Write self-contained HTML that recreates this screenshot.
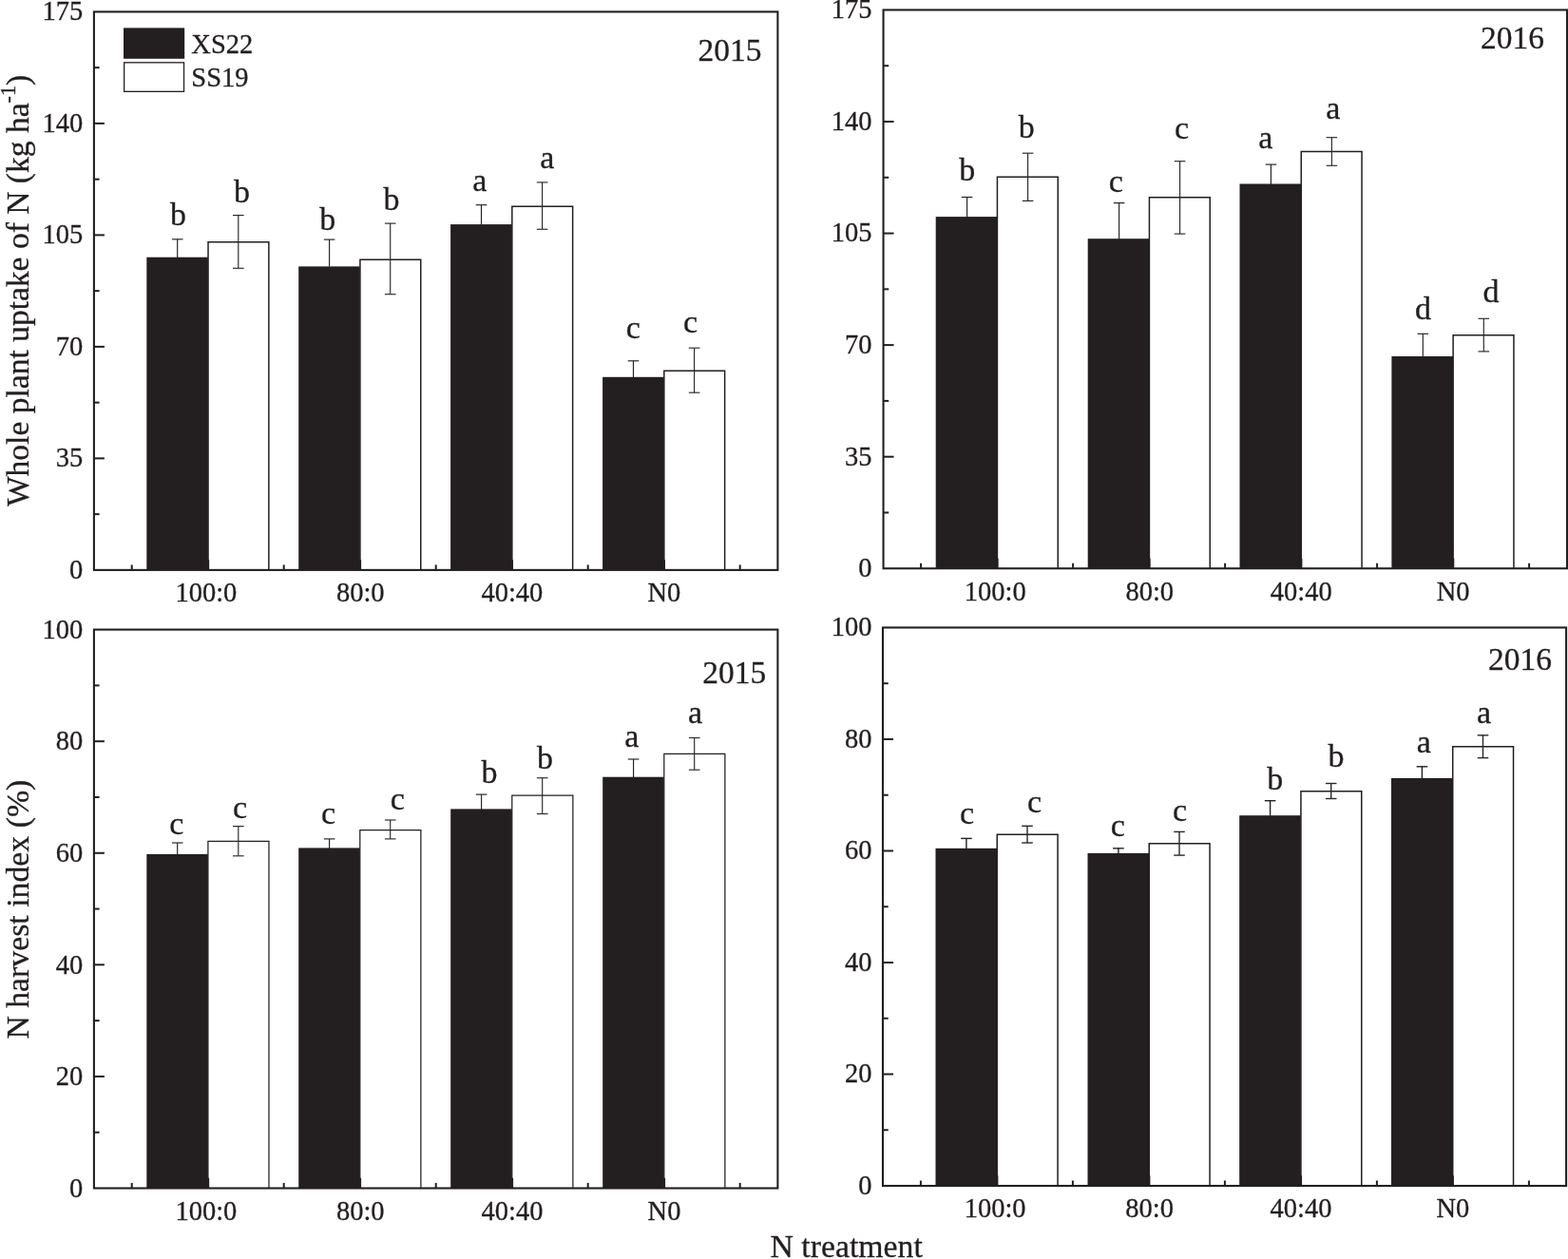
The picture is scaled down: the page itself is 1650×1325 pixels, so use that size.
<!DOCTYPE html>
<html lang="en">
<head>
<meta charset="utf-8">
<title>N uptake and N harvest index</title>
<style>
html,body{margin:0;padding:0;background:#fff;}
body{width:1650px;height:1325px;overflow:hidden;}
svg{display:block;}
svg text{font-family:"Liberation Serif","Times New Roman",serif;fill:#231f20;stroke:#231f20;stroke-width:0.3px;}
</style>
</head>
<body>
<svg width="1650" height="1325" viewBox="0 0 1650 1325">
<rect x="0" y="0" width="1650" height="1325" fill="#ffffff"/>
<rect x="154.30" y="270.70" width="64.60" height="329.20" fill="#231f20"/>
<path d="M219.03 599.90V254.75H282.85V599.90" fill="#fff" stroke="#231f20" stroke-width="1.5"/>
<rect x="314.20" y="280.40" width="64.60" height="319.50" fill="#231f20"/>
<path d="M378.93 599.90V273.35H442.75V599.90" fill="#fff" stroke="#231f20" stroke-width="1.5"/>
<rect x="474.10" y="236.10" width="64.60" height="363.80" fill="#231f20"/>
<path d="M538.83 599.90V217.35H602.65V599.90" fill="#fff" stroke="#231f20" stroke-width="1.5"/>
<rect x="634.10" y="396.80" width="64.60" height="203.10" fill="#231f20"/>
<path d="M698.83 599.90V390.25H762.65V599.90" fill="#fff" stroke="#231f20" stroke-width="1.5"/>
<line x1="186.70" y1="251.80" x2="186.70" y2="270.90" stroke="#231f20" stroke-width="1.15"/>
<line x1="180.90" y1="251.80" x2="192.50" y2="251.80" stroke="#231f20" stroke-width="1.15"/>
<line x1="250.80" y1="226.60" x2="250.80" y2="282.30" stroke="#2b2728" stroke-width="1.15"/>
<line x1="245.00" y1="226.60" x2="256.60" y2="226.60" stroke="#2b2728" stroke-width="1.15"/>
<line x1="245.00" y1="282.30" x2="256.60" y2="282.30" stroke="#2b2728" stroke-width="1.15"/>
<line x1="346.60" y1="252.10" x2="346.60" y2="280.60" stroke="#231f20" stroke-width="1.15"/>
<line x1="340.80" y1="252.10" x2="352.40" y2="252.10" stroke="#231f20" stroke-width="1.15"/>
<line x1="410.70" y1="235.10" x2="410.70" y2="309.70" stroke="#2b2728" stroke-width="1.15"/>
<line x1="404.90" y1="235.10" x2="416.50" y2="235.10" stroke="#2b2728" stroke-width="1.15"/>
<line x1="404.90" y1="309.70" x2="416.50" y2="309.70" stroke="#2b2728" stroke-width="1.15"/>
<line x1="506.50" y1="215.70" x2="506.50" y2="236.30" stroke="#231f20" stroke-width="1.15"/>
<line x1="500.70" y1="215.70" x2="512.30" y2="215.70" stroke="#231f20" stroke-width="1.15"/>
<line x1="570.60" y1="191.90" x2="570.60" y2="241.30" stroke="#2b2728" stroke-width="1.15"/>
<line x1="564.80" y1="191.90" x2="576.40" y2="191.90" stroke="#2b2728" stroke-width="1.15"/>
<line x1="564.80" y1="241.30" x2="576.40" y2="241.30" stroke="#2b2728" stroke-width="1.15"/>
<line x1="666.50" y1="379.80" x2="666.50" y2="397.00" stroke="#231f20" stroke-width="1.15"/>
<line x1="660.70" y1="379.80" x2="672.30" y2="379.80" stroke="#231f20" stroke-width="1.15"/>
<line x1="730.60" y1="366.20" x2="730.60" y2="413.20" stroke="#2b2728" stroke-width="1.15"/>
<line x1="724.80" y1="366.20" x2="736.40" y2="366.20" stroke="#2b2728" stroke-width="1.15"/>
<line x1="724.80" y1="413.20" x2="736.40" y2="413.20" stroke="#2b2728" stroke-width="1.15"/>
<rect x="98.90" y="12.40" width="719.50" height="587.50" fill="none" stroke="#231f20" stroke-width="2.1"/>
<line x1="98.90" y1="541.15" x2="104.60" y2="541.15" stroke="#231f20" stroke-width="2.0"/>
<text x="87.30" y="608.50" font-size="28.5" text-anchor="end">0</text>
<line x1="98.90" y1="482.40" x2="109.90" y2="482.40" stroke="#231f20" stroke-width="2.0"/>
<line x1="98.90" y1="423.65" x2="104.60" y2="423.65" stroke="#231f20" stroke-width="2.0"/>
<text x="87.30" y="491.00" font-size="28.5" text-anchor="end">35</text>
<line x1="98.90" y1="364.90" x2="109.90" y2="364.90" stroke="#231f20" stroke-width="2.0"/>
<line x1="98.90" y1="306.15" x2="104.60" y2="306.15" stroke="#231f20" stroke-width="2.0"/>
<text x="87.30" y="373.50" font-size="28.5" text-anchor="end">70</text>
<line x1="98.90" y1="247.40" x2="109.90" y2="247.40" stroke="#231f20" stroke-width="2.0"/>
<line x1="98.90" y1="188.65" x2="104.60" y2="188.65" stroke="#231f20" stroke-width="2.0"/>
<text x="87.30" y="256.00" font-size="28.5" text-anchor="end">105</text>
<line x1="98.90" y1="129.90" x2="109.90" y2="129.90" stroke="#231f20" stroke-width="2.0"/>
<line x1="98.90" y1="71.15" x2="104.60" y2="71.15" stroke="#231f20" stroke-width="2.0"/>
<text x="87.30" y="138.50" font-size="28.5" text-anchor="end">140</text>
<text x="87.30" y="21.00" font-size="28.5" text-anchor="end">175</text>
<line x1="138.70" y1="599.90" x2="138.70" y2="594.40" stroke="#231f20" stroke-width="2.0"/>
<line x1="298.70" y1="599.90" x2="298.70" y2="594.40" stroke="#231f20" stroke-width="2.0"/>
<line x1="458.70" y1="599.90" x2="458.70" y2="594.40" stroke="#231f20" stroke-width="2.0"/>
<line x1="618.70" y1="599.90" x2="618.70" y2="594.40" stroke="#231f20" stroke-width="2.0"/>
<line x1="778.70" y1="599.90" x2="778.70" y2="594.40" stroke="#231f20" stroke-width="2.0"/>
<line x1="219.20" y1="599.90" x2="219.20" y2="589.20" stroke="#231f20" stroke-width="2.0"/>
<line x1="379.10" y1="599.90" x2="379.10" y2="589.20" stroke="#231f20" stroke-width="2.0"/>
<line x1="539.00" y1="599.90" x2="539.00" y2="589.20" stroke="#231f20" stroke-width="2.0"/>
<line x1="699.00" y1="599.90" x2="699.00" y2="589.20" stroke="#231f20" stroke-width="2.0"/>
<text x="216.90" y="633.10" font-size="28.5" text-anchor="middle">100:0</text>
<text x="379.30" y="633.10" font-size="28.5" text-anchor="middle">80:0</text>
<text x="538.90" y="633.10" font-size="28.5" text-anchor="middle">40:40</text>
<text x="698.90" y="633.10" font-size="28.5" text-anchor="middle">N0</text>
<text x="187.60" y="236.50" font-size="34" text-anchor="middle">b</text>
<text x="254.60" y="213.20" font-size="34" text-anchor="middle">b</text>
<text x="344.80" y="241.60" font-size="34" text-anchor="middle">b</text>
<text x="412.10" y="220.50" font-size="34" text-anchor="middle">b</text>
<text x="504.70" y="201.10" font-size="34" text-anchor="middle">a</text>
<text x="575.70" y="177.40" font-size="34" text-anchor="middle">a</text>
<text x="666.30" y="356.30" font-size="34" text-anchor="middle">c</text>
<text x="726.60" y="350.00" font-size="34" text-anchor="middle">c</text>
<text transform="translate(767.90,64.00) scale(0.985,1.01)" font-size="34" text-anchor="middle">2015</text>
<rect x="984.70" y="228.10" width="64.60" height="370.15" fill="#231f20"/>
<path d="M1049.43 598.25V186.35H1113.25V598.25" fill="#fff" stroke="#231f20" stroke-width="1.5"/>
<rect x="1144.70" y="251.20" width="64.60" height="347.05" fill="#231f20"/>
<path d="M1209.43 598.25V207.75H1273.25V598.25" fill="#fff" stroke="#231f20" stroke-width="1.5"/>
<rect x="1304.50" y="193.50" width="64.60" height="404.75" fill="#231f20"/>
<path d="M1369.23 598.25V159.45H1433.05V598.25" fill="#fff" stroke="#231f20" stroke-width="1.5"/>
<rect x="1464.40" y="375.00" width="64.60" height="223.25" fill="#231f20"/>
<path d="M1529.13 598.25V352.65H1592.95V598.25" fill="#fff" stroke="#231f20" stroke-width="1.5"/>
<line x1="1017.60" y1="207.50" x2="1017.60" y2="228.60" stroke="#231f20" stroke-width="1.15"/>
<line x1="1011.80" y1="207.50" x2="1023.40" y2="207.50" stroke="#231f20" stroke-width="1.15"/>
<line x1="1081.60" y1="161.20" x2="1081.60" y2="211.40" stroke="#2b2728" stroke-width="1.15"/>
<line x1="1075.80" y1="161.20" x2="1087.40" y2="161.20" stroke="#2b2728" stroke-width="1.15"/>
<line x1="1075.80" y1="211.40" x2="1087.40" y2="211.40" stroke="#2b2728" stroke-width="1.15"/>
<line x1="1177.60" y1="213.60" x2="1177.60" y2="251.70" stroke="#231f20" stroke-width="1.15"/>
<line x1="1171.80" y1="213.60" x2="1183.40" y2="213.60" stroke="#231f20" stroke-width="1.15"/>
<line x1="1241.60" y1="169.70" x2="1241.60" y2="246.10" stroke="#2b2728" stroke-width="1.15"/>
<line x1="1235.80" y1="169.70" x2="1247.40" y2="169.70" stroke="#2b2728" stroke-width="1.15"/>
<line x1="1235.80" y1="246.10" x2="1247.40" y2="246.10" stroke="#2b2728" stroke-width="1.15"/>
<line x1="1337.40" y1="173.10" x2="1337.40" y2="194.00" stroke="#231f20" stroke-width="1.15"/>
<line x1="1331.60" y1="173.10" x2="1343.20" y2="173.10" stroke="#231f20" stroke-width="1.15"/>
<line x1="1401.40" y1="144.70" x2="1401.40" y2="174.30" stroke="#2b2728" stroke-width="1.15"/>
<line x1="1395.60" y1="144.70" x2="1407.20" y2="144.70" stroke="#2b2728" stroke-width="1.15"/>
<line x1="1395.60" y1="174.30" x2="1407.20" y2="174.30" stroke="#2b2728" stroke-width="1.15"/>
<line x1="1497.30" y1="351.30" x2="1497.30" y2="375.50" stroke="#231f20" stroke-width="1.15"/>
<line x1="1491.50" y1="351.30" x2="1503.10" y2="351.30" stroke="#231f20" stroke-width="1.15"/>
<line x1="1561.30" y1="335.30" x2="1561.30" y2="369.90" stroke="#2b2728" stroke-width="1.15"/>
<line x1="1555.50" y1="335.30" x2="1567.10" y2="335.30" stroke="#2b2728" stroke-width="1.15"/>
<line x1="1555.50" y1="369.90" x2="1567.10" y2="369.90" stroke="#2b2728" stroke-width="1.15"/>
<rect x="929.55" y="10.45" width="719.45" height="587.80" fill="none" stroke="#231f20" stroke-width="2.1"/>
<line x1="929.55" y1="539.47" x2="935.25" y2="539.47" stroke="#231f20" stroke-width="2.0"/>
<text x="917.60" y="607.15" font-size="28.5" text-anchor="end">0</text>
<line x1="929.55" y1="480.69" x2="940.55" y2="480.69" stroke="#231f20" stroke-width="2.0"/>
<line x1="929.55" y1="421.91" x2="935.25" y2="421.91" stroke="#231f20" stroke-width="2.0"/>
<text x="917.60" y="489.59" font-size="28.5" text-anchor="end">35</text>
<line x1="929.55" y1="363.13" x2="940.55" y2="363.13" stroke="#231f20" stroke-width="2.0"/>
<line x1="929.55" y1="304.35" x2="935.25" y2="304.35" stroke="#231f20" stroke-width="2.0"/>
<text x="917.60" y="372.03" font-size="28.5" text-anchor="end">70</text>
<line x1="929.55" y1="245.57" x2="940.55" y2="245.57" stroke="#231f20" stroke-width="2.0"/>
<line x1="929.55" y1="186.79" x2="935.25" y2="186.79" stroke="#231f20" stroke-width="2.0"/>
<text x="917.60" y="254.47" font-size="28.5" text-anchor="end">105</text>
<line x1="929.55" y1="128.01" x2="940.55" y2="128.01" stroke="#231f20" stroke-width="2.0"/>
<line x1="929.55" y1="69.23" x2="935.25" y2="69.23" stroke="#231f20" stroke-width="2.0"/>
<text x="917.60" y="136.91" font-size="28.5" text-anchor="end">140</text>
<text x="917.60" y="19.35" font-size="28.5" text-anchor="end">175</text>
<line x1="969.10" y1="598.25" x2="969.10" y2="592.75" stroke="#231f20" stroke-width="2.0"/>
<line x1="1129.10" y1="598.25" x2="1129.10" y2="592.75" stroke="#231f20" stroke-width="2.0"/>
<line x1="1289.10" y1="598.25" x2="1289.10" y2="592.75" stroke="#231f20" stroke-width="2.0"/>
<line x1="1449.10" y1="598.25" x2="1449.10" y2="592.75" stroke="#231f20" stroke-width="2.0"/>
<line x1="1609.10" y1="598.25" x2="1609.10" y2="592.75" stroke="#231f20" stroke-width="2.0"/>
<line x1="1049.60" y1="598.25" x2="1049.60" y2="587.55" stroke="#231f20" stroke-width="2.0"/>
<line x1="1209.60" y1="598.25" x2="1209.60" y2="587.55" stroke="#231f20" stroke-width="2.0"/>
<line x1="1369.40" y1="598.25" x2="1369.40" y2="587.55" stroke="#231f20" stroke-width="2.0"/>
<line x1="1529.30" y1="598.25" x2="1529.30" y2="587.55" stroke="#231f20" stroke-width="2.0"/>
<text x="1047.30" y="632.25" font-size="28.5" text-anchor="middle">100:0</text>
<text x="1209.80" y="632.25" font-size="28.5" text-anchor="middle">80:0</text>
<text x="1369.30" y="632.25" font-size="28.5" text-anchor="middle">40:40</text>
<text x="1529.20" y="632.25" font-size="28.5" text-anchor="middle">N0</text>
<text x="1017.70" y="190.10" font-size="34" text-anchor="middle">b</text>
<text x="1080.20" y="144.70" font-size="34" text-anchor="middle">b</text>
<text x="1174.20" y="201.90" font-size="34" text-anchor="middle">c</text>
<text x="1243.60" y="145.50" font-size="34" text-anchor="middle">c</text>
<text x="1331.70" y="155.90" font-size="34" text-anchor="middle">a</text>
<text x="1402.70" y="125.10" font-size="34" text-anchor="middle">a</text>
<text x="1497.40" y="336.20" font-size="34" text-anchor="middle">d</text>
<text x="1569.10" y="318.10" font-size="34" text-anchor="middle">d</text>
<text transform="translate(1591.50,50.90) scale(0.985,1.01)" font-size="34" text-anchor="middle">2016</text>
<rect x="154.30" y="898.90" width="64.60" height="351.60" fill="#231f20"/>
<path d="M218.91 1250.50V885.43H282.98V1250.50" fill="#fff" stroke="#231f20" stroke-width="1.25"/>
<rect x="314.20" y="892.40" width="64.60" height="358.10" fill="#231f20"/>
<path d="M378.80 1250.50V873.53H442.88V1250.50" fill="#fff" stroke="#231f20" stroke-width="1.25"/>
<rect x="474.20" y="851.40" width="64.60" height="399.10" fill="#231f20"/>
<path d="M538.80 1250.50V837.12H602.88V1250.50" fill="#fff" stroke="#231f20" stroke-width="1.25"/>
<rect x="634.20" y="817.70" width="64.60" height="432.80" fill="#231f20"/>
<path d="M698.81 1250.50V793.33H762.88V1250.50" fill="#fff" stroke="#231f20" stroke-width="1.25"/>
<line x1="186.70" y1="887.00" x2="186.70" y2="899.40" stroke="#231f20" stroke-width="1.15"/>
<line x1="180.90" y1="887.00" x2="192.50" y2="887.00" stroke="#231f20" stroke-width="1.15"/>
<line x1="250.80" y1="869.60" x2="250.80" y2="900.80" stroke="#2b2728" stroke-width="1.15"/>
<line x1="245.00" y1="869.60" x2="256.60" y2="869.60" stroke="#2b2728" stroke-width="1.15"/>
<line x1="245.00" y1="900.80" x2="256.60" y2="900.80" stroke="#2b2728" stroke-width="1.15"/>
<line x1="346.60" y1="882.90" x2="346.60" y2="892.90" stroke="#231f20" stroke-width="1.15"/>
<line x1="340.80" y1="882.90" x2="352.40" y2="882.90" stroke="#231f20" stroke-width="1.15"/>
<line x1="410.70" y1="863.00" x2="410.70" y2="882.90" stroke="#2b2728" stroke-width="1.15"/>
<line x1="404.90" y1="863.00" x2="416.50" y2="863.00" stroke="#2b2728" stroke-width="1.15"/>
<line x1="404.90" y1="882.90" x2="416.50" y2="882.90" stroke="#2b2728" stroke-width="1.15"/>
<line x1="506.60" y1="836.10" x2="506.60" y2="851.90" stroke="#231f20" stroke-width="1.15"/>
<line x1="500.80" y1="836.10" x2="512.40" y2="836.10" stroke="#231f20" stroke-width="1.15"/>
<line x1="570.70" y1="818.70" x2="570.70" y2="856.50" stroke="#2b2728" stroke-width="1.15"/>
<line x1="564.90" y1="818.70" x2="576.50" y2="818.70" stroke="#2b2728" stroke-width="1.15"/>
<line x1="564.90" y1="856.50" x2="576.50" y2="856.50" stroke="#2b2728" stroke-width="1.15"/>
<line x1="666.60" y1="799.00" x2="666.60" y2="818.20" stroke="#231f20" stroke-width="1.15"/>
<line x1="660.80" y1="799.00" x2="672.40" y2="799.00" stroke="#231f20" stroke-width="1.15"/>
<line x1="730.70" y1="776.50" x2="730.70" y2="810.20" stroke="#2b2728" stroke-width="1.15"/>
<line x1="724.90" y1="776.50" x2="736.50" y2="776.50" stroke="#2b2728" stroke-width="1.15"/>
<line x1="724.90" y1="810.20" x2="736.50" y2="810.20" stroke="#2b2728" stroke-width="1.15"/>
<rect x="98.90" y="662.60" width="719.50" height="587.90" fill="none" stroke="#231f20" stroke-width="2.1"/>
<line x1="98.90" y1="1191.71" x2="104.60" y2="1191.71" stroke="#231f20" stroke-width="2.0"/>
<text x="87.30" y="1259.70" font-size="28.5" text-anchor="end">0</text>
<line x1="98.90" y1="1132.92" x2="109.90" y2="1132.92" stroke="#231f20" stroke-width="2.0"/>
<line x1="98.90" y1="1074.13" x2="104.60" y2="1074.13" stroke="#231f20" stroke-width="2.0"/>
<text x="87.30" y="1142.12" font-size="28.5" text-anchor="end">20</text>
<line x1="98.90" y1="1015.34" x2="109.90" y2="1015.34" stroke="#231f20" stroke-width="2.0"/>
<line x1="98.90" y1="956.55" x2="104.60" y2="956.55" stroke="#231f20" stroke-width="2.0"/>
<text x="87.30" y="1024.54" font-size="28.5" text-anchor="end">40</text>
<line x1="98.90" y1="897.76" x2="109.90" y2="897.76" stroke="#231f20" stroke-width="2.0"/>
<line x1="98.90" y1="838.97" x2="104.60" y2="838.97" stroke="#231f20" stroke-width="2.0"/>
<text x="87.30" y="906.96" font-size="28.5" text-anchor="end">60</text>
<line x1="98.90" y1="780.18" x2="109.90" y2="780.18" stroke="#231f20" stroke-width="2.0"/>
<line x1="98.90" y1="721.39" x2="104.60" y2="721.39" stroke="#231f20" stroke-width="2.0"/>
<text x="87.30" y="789.38" font-size="28.5" text-anchor="end">80</text>
<text x="87.30" y="671.80" font-size="28.5" text-anchor="end">100</text>
<line x1="138.70" y1="1250.50" x2="138.70" y2="1245.00" stroke="#231f20" stroke-width="2.0"/>
<line x1="298.70" y1="1250.50" x2="298.70" y2="1245.00" stroke="#231f20" stroke-width="2.0"/>
<line x1="458.70" y1="1250.50" x2="458.70" y2="1245.00" stroke="#231f20" stroke-width="2.0"/>
<line x1="618.70" y1="1250.50" x2="618.70" y2="1245.00" stroke="#231f20" stroke-width="2.0"/>
<line x1="778.70" y1="1250.50" x2="778.70" y2="1245.00" stroke="#231f20" stroke-width="2.0"/>
<line x1="219.20" y1="1250.50" x2="219.20" y2="1239.80" stroke="#231f20" stroke-width="2.0"/>
<line x1="379.10" y1="1250.50" x2="379.10" y2="1239.80" stroke="#231f20" stroke-width="2.0"/>
<line x1="539.10" y1="1250.50" x2="539.10" y2="1239.80" stroke="#231f20" stroke-width="2.0"/>
<line x1="699.10" y1="1250.50" x2="699.10" y2="1239.80" stroke="#231f20" stroke-width="2.0"/>
<text x="216.90" y="1283.70" font-size="28.5" text-anchor="middle">100:0</text>
<text x="379.30" y="1283.70" font-size="28.5" text-anchor="middle">80:0</text>
<text x="539.00" y="1283.70" font-size="28.5" text-anchor="middle">40:40</text>
<text x="699.00" y="1283.70" font-size="28.5" text-anchor="middle">N0</text>
<text x="185.80" y="877.80" font-size="34" text-anchor="middle">c</text>
<text x="252.60" y="860.80" font-size="34" text-anchor="middle">c</text>
<text x="345.50" y="866.90" font-size="34" text-anchor="middle">c</text>
<text x="418.40" y="851.60" font-size="34" text-anchor="middle">c</text>
<text x="515.10" y="824.40" font-size="34" text-anchor="middle">b</text>
<text x="573.50" y="808.70" font-size="34" text-anchor="middle">b</text>
<text x="664.80" y="785.70" font-size="34" text-anchor="middle">a</text>
<text x="731.60" y="760.70" font-size="34" text-anchor="middle">a</text>
<text transform="translate(772.70,718.60) scale(0.985,1.01)" font-size="34" text-anchor="middle">2015</text>
<rect x="984.50" y="892.80" width="64.60" height="355.20" fill="#231f20"/>
<path d="M1049.23 1248.00V878.35H1113.05V1248.00" fill="#fff" stroke="#231f20" stroke-width="1.5"/>
<rect x="1144.50" y="897.90" width="64.60" height="350.10" fill="#231f20"/>
<path d="M1209.23 1248.00V887.85H1273.05V1248.00" fill="#fff" stroke="#231f20" stroke-width="1.5"/>
<rect x="1304.20" y="858.20" width="64.60" height="389.80" fill="#231f20"/>
<path d="M1368.93 1248.00V832.85H1432.75V1248.00" fill="#fff" stroke="#231f20" stroke-width="1.5"/>
<rect x="1464.00" y="818.90" width="64.60" height="429.10" fill="#231f20"/>
<path d="M1528.73 1248.00V785.85H1592.55V1248.00" fill="#fff" stroke="#231f20" stroke-width="1.5"/>
<line x1="1016.90" y1="882.40" x2="1016.90" y2="893.30" stroke="#231f20" stroke-width="1.4"/>
<line x1="1011.10" y1="882.40" x2="1022.70" y2="882.40" stroke="#231f20" stroke-width="1.4"/>
<line x1="1081.00" y1="869.30" x2="1081.00" y2="887.00" stroke="#2b2728" stroke-width="1.4"/>
<line x1="1075.20" y1="869.30" x2="1086.80" y2="869.30" stroke="#2b2728" stroke-width="1.4"/>
<line x1="1075.20" y1="887.00" x2="1086.80" y2="887.00" stroke="#2b2728" stroke-width="1.4"/>
<line x1="1176.90" y1="892.80" x2="1176.90" y2="898.40" stroke="#231f20" stroke-width="1.4"/>
<line x1="1171.10" y1="892.80" x2="1182.70" y2="892.80" stroke="#231f20" stroke-width="1.4"/>
<line x1="1241.00" y1="875.40" x2="1241.00" y2="900.10" stroke="#2b2728" stroke-width="1.4"/>
<line x1="1235.20" y1="875.40" x2="1246.80" y2="875.40" stroke="#2b2728" stroke-width="1.4"/>
<line x1="1235.20" y1="900.10" x2="1246.80" y2="900.10" stroke="#2b2728" stroke-width="1.4"/>
<line x1="1336.60" y1="842.70" x2="1336.60" y2="858.70" stroke="#231f20" stroke-width="1.4"/>
<line x1="1330.80" y1="842.70" x2="1342.40" y2="842.70" stroke="#231f20" stroke-width="1.4"/>
<line x1="1400.70" y1="824.50" x2="1400.70" y2="840.50" stroke="#2b2728" stroke-width="1.4"/>
<line x1="1394.90" y1="824.50" x2="1406.50" y2="824.50" stroke="#2b2728" stroke-width="1.4"/>
<line x1="1394.90" y1="840.50" x2="1406.50" y2="840.50" stroke="#2b2728" stroke-width="1.4"/>
<line x1="1496.40" y1="806.80" x2="1496.40" y2="819.40" stroke="#231f20" stroke-width="1.4"/>
<line x1="1490.60" y1="806.80" x2="1502.20" y2="806.80" stroke="#231f20" stroke-width="1.4"/>
<line x1="1560.50" y1="773.80" x2="1560.50" y2="797.60" stroke="#2b2728" stroke-width="1.4"/>
<line x1="1554.70" y1="773.80" x2="1566.30" y2="773.80" stroke="#2b2728" stroke-width="1.4"/>
<line x1="1554.70" y1="797.60" x2="1566.30" y2="797.60" stroke="#2b2728" stroke-width="1.4"/>
<rect x="929.00" y="660.45" width="719.10" height="587.55" fill="none" stroke="#231f20" stroke-width="2.1"/>
<line x1="929.00" y1="1189.24" x2="934.70" y2="1189.24" stroke="#231f20" stroke-width="2.0"/>
<text x="917.40" y="1256.60" font-size="28.5" text-anchor="end">0</text>
<line x1="929.00" y1="1130.49" x2="940.00" y2="1130.49" stroke="#231f20" stroke-width="2.0"/>
<line x1="929.00" y1="1071.74" x2="934.70" y2="1071.74" stroke="#231f20" stroke-width="2.0"/>
<text x="917.40" y="1139.09" font-size="28.5" text-anchor="end">20</text>
<line x1="929.00" y1="1012.98" x2="940.00" y2="1012.98" stroke="#231f20" stroke-width="2.0"/>
<line x1="929.00" y1="954.23" x2="934.70" y2="954.23" stroke="#231f20" stroke-width="2.0"/>
<text x="917.40" y="1021.58" font-size="28.5" text-anchor="end">40</text>
<line x1="929.00" y1="895.47" x2="940.00" y2="895.47" stroke="#231f20" stroke-width="2.0"/>
<line x1="929.00" y1="836.72" x2="934.70" y2="836.72" stroke="#231f20" stroke-width="2.0"/>
<text x="917.40" y="904.07" font-size="28.5" text-anchor="end">60</text>
<line x1="929.00" y1="777.96" x2="940.00" y2="777.96" stroke="#231f20" stroke-width="2.0"/>
<line x1="929.00" y1="719.21" x2="934.70" y2="719.21" stroke="#231f20" stroke-width="2.0"/>
<text x="917.40" y="786.56" font-size="28.5" text-anchor="end">80</text>
<text x="917.40" y="669.05" font-size="28.5" text-anchor="end">100</text>
<line x1="968.90" y1="1248.00" x2="968.90" y2="1242.50" stroke="#231f20" stroke-width="2.0"/>
<line x1="1128.90" y1="1248.00" x2="1128.90" y2="1242.50" stroke="#231f20" stroke-width="2.0"/>
<line x1="1288.90" y1="1248.00" x2="1288.90" y2="1242.50" stroke="#231f20" stroke-width="2.0"/>
<line x1="1448.90" y1="1248.00" x2="1448.90" y2="1242.50" stroke="#231f20" stroke-width="2.0"/>
<line x1="1608.90" y1="1248.00" x2="1608.90" y2="1242.50" stroke="#231f20" stroke-width="2.0"/>
<line x1="1049.40" y1="1248.00" x2="1049.40" y2="1237.30" stroke="#231f20" stroke-width="2.0"/>
<line x1="1209.40" y1="1248.00" x2="1209.40" y2="1237.30" stroke="#231f20" stroke-width="2.0"/>
<line x1="1369.10" y1="1248.00" x2="1369.10" y2="1237.30" stroke="#231f20" stroke-width="2.0"/>
<line x1="1528.90" y1="1248.00" x2="1528.90" y2="1237.30" stroke="#231f20" stroke-width="2.0"/>
<text x="1047.10" y="1281.20" font-size="28.5" text-anchor="middle">100:0</text>
<text x="1209.60" y="1281.20" font-size="28.5" text-anchor="middle">80:0</text>
<text x="1369.00" y="1281.20" font-size="28.5" text-anchor="middle">40:40</text>
<text x="1528.80" y="1281.20" font-size="28.5" text-anchor="middle">N0</text>
<text x="1017.50" y="866.50" font-size="34" text-anchor="middle">c</text>
<text x="1088.60" y="854.60" font-size="34" text-anchor="middle">c</text>
<text x="1176.40" y="880.30" font-size="34" text-anchor="middle">c</text>
<text x="1241.50" y="864.00" font-size="34" text-anchor="middle">c</text>
<text x="1341.70" y="830.60" font-size="34" text-anchor="middle">b</text>
<text x="1406.00" y="806.80" font-size="34" text-anchor="middle">b</text>
<text x="1498.20" y="792.00" font-size="34" text-anchor="middle">a</text>
<text x="1561.50" y="761.00" font-size="34" text-anchor="middle">a</text>
<text transform="translate(1599.50,705.00) scale(0.985,1.01)" font-size="34" text-anchor="middle">2016</text>
<rect x="130" y="29.4" width="64.2" height="32.4" fill="#231f20"/>
<rect x="130.65" y="65.85" width="62.9" height="30.5" fill="#fff" stroke="#231f20" stroke-width="1.3"/>
<text x="201.30" y="55.70" font-size="28.5" text-anchor="start">XS22</text>
<text x="201.30" y="91.20" font-size="28.5" text-anchor="start">SS19</text>
<text transform="translate(29.8,305.9) rotate(-90) scale(0.9695,1)" font-size="34.6" text-anchor="middle">Whole plant uptake of N (kg ha<tspan font-size="23" dy="-13.5">-1</tspan><tspan dy="13.5">)</tspan></text>
<text transform="translate(29.9,957.15) rotate(-90) scale(0.9765,1)" font-size="34.6" text-anchor="middle">N harvest index (%)</text>
<text transform="translate(890.7,1323.4) scale(0.985,1)" font-size="34.3" text-anchor="middle">N treatment</text>
</svg>
</body>
</html>
